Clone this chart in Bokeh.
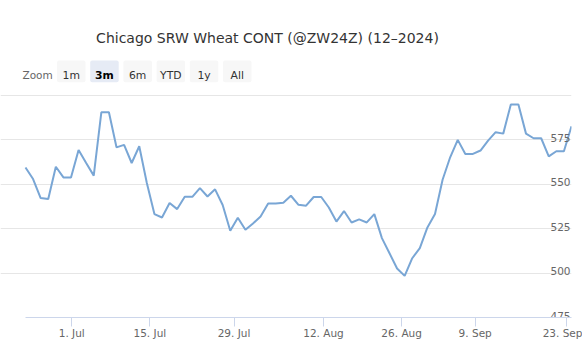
from bokeh.plotting import figure
from bokeh.models import Range1d, FixedTicker, Label, BoxAnnotation
from bokeh.core.properties import value
from bokeh.embed import file_html
from bokeh.resources import INLINE

# ---- data ----
title_text = "Chicago SRW Wheat CONT (@ZW24Z) (12\u20132024)"
prices = [559.3, 552.8, 542.1, 541.6, 559.7, 553.7, 553.7, 569.1, 561.8, 554.7,
          590.3, 590.3, 570.6, 572.0, 561.8, 571.2, 550.6, 533.1, 531.2, 539.3,
          535.9, 542.8, 542.8, 547.7, 543.0, 547.0, 538.2, 523.7, 531.0, 524.3,
          527.8, 531.8, 539.1, 539.1, 539.5, 543.4, 538.3, 537.8, 542.7, 542.7,
          536.8, 528.9, 534.8, 528.4, 530.1, 528.4, 533.1, 519.6, 511.1, 502.5,
          498.4, 508.3, 514.0, 525.6, 533.1, 552.4, 565.0, 574.8, 566.9, 566.9,
          568.8, 574.4, 579.1, 578.3, 594.7, 594.7, 578.3, 575.7, 575.7, 565.5,
          568.4, 568.4, 582.4]
day_index = list(range(len(prices)))
tick_pos = [6.1, 16.4, 27.5, 39.3, 49.6, 59.3, 71.3]
tick_labels = ["1. Jul", "15. Jul", "29. Jul", "12. Aug", "26. Aug", "9. Sep", "23. Sep"]
y_min, y_max = 475, 600
y_grid_ticks = [475, 500, 525, 550, 575, 600]
y_label_ticks = [475, 500, 525, 550, 575]
zoom_buttons = ["1m", "3m", "6m", "YTD", "1y", "All"]
selected_button = "3m"

W, H = 582, 351
FONT = "DejaVu Sans"

# layout (pixels): plot area of the series
PL, PR, PT, PB = 25, 571, 94.5, 317          # left, right, top, bottom of the plot area
FRAME_BOTTOM = PB
x0, x1 = day_index[0], day_index[-1]
px_per_x = (PR - PL) / (x1 - x0)
px_per_y = (PB - PT) / (y_max - y_min)
# frame spans the full canvas from the left/top so that header items are inside it
x_start = x0 - PL / px_per_x
y_end = y_max + PT / px_per_y

p = figure(width=W, height=H, output_backend="svg", toolbar_location=None,
           x_range=Range1d(x_start, x1), y_range=Range1d(y_min, y_end),
           y_axis_location=None,
           min_border_left=0, min_border_right=W - PR, min_border_top=0,
           min_border_bottom=H - PB)
p.outline_line_color = None
p.background_fill_color = "white"
p.border_fill_color = "white"

# grid
p.xgrid.visible = False
p.ygrid.ticker = FixedTicker(ticks=y_grid_ticks)
p.ygrid.bounds = (x0, x1)
p.ygrid.grid_line_color = "#e6e6e6"
p.ygrid.grid_line_width = 1

# x axis
ax = p.xaxis[0]
ax.ticker = FixedTicker(ticks=tick_pos)
ax.bounds = (x0, x1)
ax.major_label_overrides = {t: l for t, l in zip(tick_pos, tick_labels)}
ax.axis_line_color = "#ccd6eb"
ax.major_tick_line_color = "#ccd6eb"
ax.major_tick_out = 9
ax.major_tick_in = 0
ax.minor_tick_line_color = None
ax.major_label_standoff = 0
ax.major_label_text_font = FONT
ax.major_label_text_font_size = "10.5px"
ax.major_label_text_color = "#666666"

# series
p.line(day_index, prices, line_color="#79a6d5", line_width=2)

# y labels inside the plot, right aligned above grid lines
p.text(x=[x1] * len(y_label_ticks), y=y_label_ticks,
       text=[str(v) for v in y_label_ticks],
       text_align="right", text_baseline="alphabetic", x_offset=-1, y_offset=-2,
       text_font=value(FONT), text_font_size="10.5px", text_color="#666666")

# header items: screen units relative to the frame (x from left, y up from frame bottom)
def sx(cx):
    return cx

def sy(cy):
    return FRAME_BOTTOM - cy

p.add_layout(Label(x=sx(267), y=sy(37.8), x_units="screen", y_units="screen",
                   text=title_text, text_align="center", text_baseline="alphabetic",
                   text_font=FONT, text_font_size="14px", text_color="#333333"))

p.add_layout(Label(x=sx(22), y=sy(74.5), x_units="screen", y_units="screen",
                   text="Zoom", text_align="left", text_baseline="alphabetic",
                   text_font=FONT, text_font_size="10.5px", text_color="#666666"))
bx0, bstep, bw = 56.5, 33.2, 28.5
for i, b in enumerate(zoom_buttons):
    left = bx0 + i * bstep
    sel = (b == selected_button)
    p.add_layout(BoxAnnotation(left=sx(left), right=sx(left + bw), top=sy(60), bottom=sy(81.7),
                               left_units="screen", right_units="screen",
                               top_units="screen", bottom_units="screen",
                               fill_color="#e6ebf5" if sel else "#f7f7f7", fill_alpha=1.0,
                               line_color=None, border_radius=2))
    p.add_layout(Label(x=sx(left + bw / 2), y=sy(74.5), x_units="screen", y_units="screen",
                       text=b, text_align="center", text_baseline="alphabetic",
                       text_font=FONT, text_font_size="10.8px",
                       text_font_style="bold" if sel else "normal",
                       text_color="#000000" if sel else "#333333"))

open("out.html", "w").write(file_html(p, INLINE))
